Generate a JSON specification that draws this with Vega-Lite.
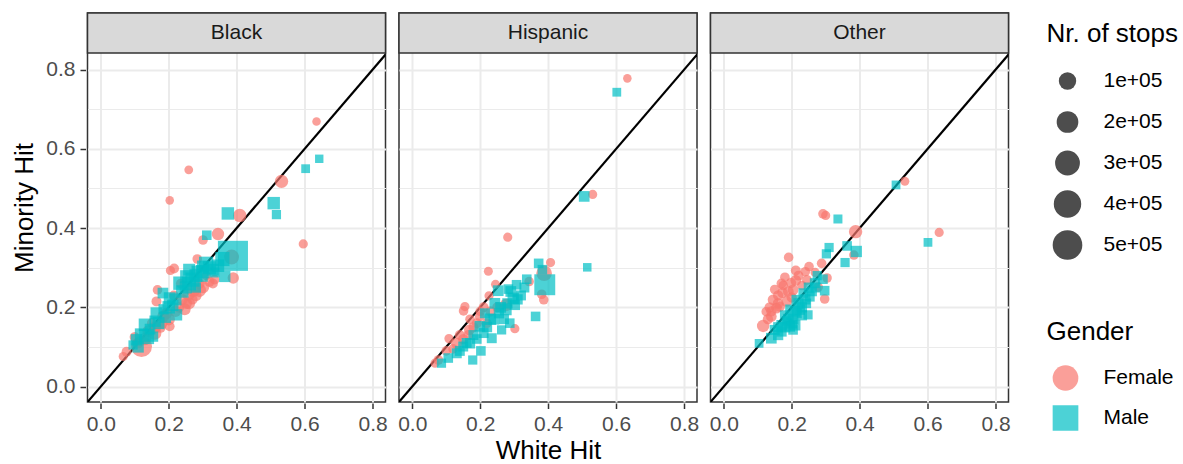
{
  "$schema": "https://vega.github.io/schema/vega-lite/v6.json",
  "padding": {"left": 11.5, "top": 11, "right": 5, "bottom": 5},
  "background": "white",
  "data": {"values": [
    {"race":"Black","gender":"Female","white":0.635,"minority":0.669,"stops":3000},
    {"race":"Black","gender":"Female","white":0.259,"minority":0.547,"stops":4000},
    {"race":"Black","gender":"Female","white":0.203,"minority":0.470,"stops":3000},
    {"race":"Black","gender":"Female","white":0.532,"minority":0.518,"stops":40000},
    {"race":"Black","gender":"Female","white":0.409,"minority":0.432,"stops":40000},
    {"race":"Black","gender":"Female","white":0.345,"minority":0.385,"stops":30000},
    {"race":"Black","gender":"Female","white":0.301,"minority":0.370,"stops":8000},
    {"race":"Black","gender":"Female","white":0.596,"minority":0.360,"stops":6000},
    {"race":"Black","gender":"Female","white":0.284,"minority":0.322,"stops":8000},
    {"race":"Black","gender":"Female","white":0.385,"minority":0.327,"stops":60000},
    {"race":"Black","gender":"Female","white":0.216,"minority":0.298,"stops":9000},
    {"race":"Black","gender":"Female","white":0.205,"minority":0.293,"stops":6000},
    {"race":"Black","gender":"Female","white":0.390,"minority":0.274,"stops":20000},
    {"race":"Black","gender":"Female","white":0.301,"minority":0.251,"stops":30000},
    {"race":"Black","gender":"Female","white":0.290,"minority":0.243,"stops":40000},
    {"race":"Black","gender":"Female","white":0.272,"minority":0.244,"stops":50000},
    {"race":"Black","gender":"Female","white":0.167,"minority":0.244,"stops":8000},
    {"race":"Black","gender":"Female","white":0.252,"minority":0.210,"stops":20000},
    {"race":"Black","gender":"Female","white":0.247,"minority":0.195,"stops":25000},
    {"race":"Black","gender":"Female","white":0.164,"minority":0.215,"stops":10000},
    {"race":"Black","gender":"Female","white":0.194,"minority":0.185,"stops":20000},
    {"race":"Black","gender":"Female","white":0.203,"minority":0.152,"stops":9000},
    {"race":"Black","gender":"Female","white":0.100,"minority":0.125,"stops":12000},
    {"race":"Black","gender":"Female","white":0.120,"minority":0.101,"stops":180000},
    {"race":"Black","gender":"Female","white":0.076,"minority":0.088,"stops":10000},
    {"race":"Black","gender":"Female","white":0.066,"minority":0.076,"stops":5000},
    {"race":"Black","gender":"Female","white":0.159,"minority":0.135,"stops":40000},
    {"race":"Black","gender":"Female","white":0.184,"minority":0.177,"stops":25000},
    {"race":"Black","gender":"Female","white":0.230,"minority":0.200,"stops":15000},
    {"race":"Black","gender":"Female","white":0.270,"minority":0.220,"stops":12000},
    {"race":"Black","gender":"Female","white":0.310,"minority":0.280,"stops":6000},
    {"race":"Black","gender":"Female","white":0.150,"minority":0.160,"stops":8000},
    {"race":"Black","gender":"Female","white":0.175,"minority":0.150,"stops":20000},
    {"race":"Black","gender":"Female","white":0.215,"minority":0.230,"stops":10000},
    {"race":"Black","gender":"Female","white":0.235,"minority":0.260,"stops":7000},
    {"race":"Black","gender":"Female","white":0.140,"minority":0.140,"stops":25000},
    {"race":"Black","gender":"Female","white":0.258,"minority":0.232,"stops":30000},
    {"race":"Black","gender":"Female","white":0.330,"minority":0.260,"stops":10000},
    {"race":"Black","gender":"Female","white":0.280,"minority":0.230,"stops":20000},
    {"race":"Black","gender":"Female","white":0.260,"minority":0.210,"stops":25000},
    {"race":"Black","gender":"Female","white":0.240,"minority":0.220,"stops":15000},
    {"race":"Black","gender":"Female","white":0.220,"minority":0.190,"stops":20000},
    {"race":"Black","gender":"Female","white":0.200,"minority":0.170,"stops":30000},
    {"race":"Black","gender":"Female","white":0.180,"minority":0.160,"stops":20000},
    {"race":"Black","gender":"Female","white":0.160,"minority":0.150,"stops":25000},
    {"race":"Black","gender":"Female","white":0.130,"minority":0.120,"stops":30000},
    {"race":"Black","gender":"Female","white":0.110,"minority":0.110,"stops":15000},
    {"race":"Black","gender":"Female","white":0.320,"minority":0.265,"stops":12000},
    {"race":"Black","gender":"Female","white":0.290,"minority":0.260,"stops":15000},
    {"race":"Black","gender":"Female","white":0.335,"minority":0.270,"stops":9000},
    {"race":"Black","gender":"Male","white":0.643,"minority":0.575,"stops":2500},
    {"race":"Black","gender":"Male","white":0.603,"minority":0.550,"stops":4000},
    {"race":"Black","gender":"Male","white":0.509,"minority":0.463,"stops":30000},
    {"race":"Black","gender":"Male","white":0.517,"minority":0.434,"stops":6000},
    {"race":"Black","gender":"Male","white":0.374,"minority":0.437,"stops":30000},
    {"race":"Black","gender":"Male","white":0.312,"minority":0.382,"stops":8000},
    {"race":"Black","gender":"Male","white":0.389,"minority":0.330,"stops":520000},
    {"race":"Black","gender":"Male","white":0.358,"minority":0.322,"stops":50000},
    {"race":"Black","gender":"Male","white":0.335,"minority":0.288,"stops":10000},
    {"race":"Black","gender":"Male","white":0.365,"minority":0.278,"stops":20000},
    {"race":"Black","gender":"Male","white":0.291,"minority":0.285,"stops":80000},
    {"race":"Black","gender":"Male","white":0.301,"minority":0.303,"stops":25000},
    {"race":"Black","gender":"Male","white":0.252,"minority":0.278,"stops":30000},
    {"race":"Black","gender":"Male","white":0.233,"minority":0.261,"stops":40000},
    {"race":"Black","gender":"Male","white":0.183,"minority":0.236,"stops":15000},
    {"race":"Black","gender":"Male","white":0.203,"minority":0.223,"stops":25000},
    {"race":"Black","gender":"Male","white":0.223,"minority":0.181,"stops":20000},
    {"race":"Black","gender":"Male","white":0.164,"minority":0.185,"stops":25000},
    {"race":"Black","gender":"Male","white":0.130,"minority":0.156,"stops":30000},
    {"race":"Black","gender":"Male","white":0.135,"minority":0.126,"stops":60000},
    {"race":"Black","gender":"Male","white":0.105,"minority":0.118,"stops":20000},
    {"race":"Black","gender":"Male","white":0.154,"minority":0.126,"stops":12000},
    {"race":"Black","gender":"Male","white":0.095,"minority":0.105,"stops":6000},
    {"race":"Black","gender":"Male","white":0.270,"minority":0.270,"stops":50000},
    {"race":"Black","gender":"Male","white":0.240,"minority":0.240,"stops":30000},
    {"race":"Black","gender":"Male","white":0.212,"minority":0.205,"stops":20000},
    {"race":"Black","gender":"Male","white":0.185,"minority":0.195,"stops":12000},
    {"race":"Black","gender":"Male","white":0.280,"minority":0.250,"stops":12000},
    {"race":"Black","gender":"Male","white":0.320,"minority":0.300,"stops":35000},
    {"race":"Black","gender":"Male","white":0.160,"minority":0.165,"stops":20000},
    {"race":"Black","gender":"Male","white":0.145,"minority":0.145,"stops":15000},
    {"race":"Black","gender":"Male","white":0.260,"minority":0.295,"stops":25000},
    {"race":"Black","gender":"Male","white":0.300,"minority":0.290,"stops":40000},
    {"race":"Black","gender":"Male","white":0.280,"minority":0.280,"stops":35000},
    {"race":"Black","gender":"Male","white":0.260,"minority":0.260,"stops":45000},
    {"race":"Black","gender":"Male","white":0.250,"minority":0.250,"stops":25000},
    {"race":"Black","gender":"Male","white":0.220,"minority":0.220,"stops":25000},
    {"race":"Black","gender":"Male","white":0.200,"minority":0.200,"stops":30000},
    {"race":"Black","gender":"Male","white":0.190,"minority":0.175,"stops":20000},
    {"race":"Black","gender":"Male","white":0.170,"minority":0.160,"stops":25000},
    {"race":"Black","gender":"Male","white":0.120,"minority":0.130,"stops":40000},
    {"race":"Black","gender":"Male","white":0.110,"minority":0.100,"stops":20000},
    {"race":"Black","gender":"Male","white":0.310,"minority":0.310,"stops":50000},
    {"race":"Black","gender":"Male","white":0.330,"minority":0.295,"stops":25000},
    {"race":"Black","gender":"Male","white":0.345,"minority":0.305,"stops":30000},
    {"race":"Hispanic","gender":"Female","white":0.633,"minority":0.778,"stops":3000},
    {"race":"Hispanic","gender":"Female","white":0.531,"minority":0.485,"stops":6000},
    {"race":"Hispanic","gender":"Female","white":0.281,"minority":0.377,"stops":6000},
    {"race":"Hispanic","gender":"Female","white":0.407,"minority":0.313,"stops":6000},
    {"race":"Hispanic","gender":"Female","white":0.224,"minority":0.291,"stops":5000},
    {"race":"Hispanic","gender":"Female","white":0.388,"minority":0.286,"stops":70000},
    {"race":"Hispanic","gender":"Female","white":0.344,"minority":0.265,"stops":8000},
    {"race":"Hispanic","gender":"Female","white":0.245,"minority":0.258,"stops":5000},
    {"race":"Hispanic","gender":"Female","white":0.226,"minority":0.229,"stops":6000},
    {"race":"Hispanic","gender":"Female","white":0.381,"minority":0.233,"stops":8000},
    {"race":"Hispanic","gender":"Female","white":0.387,"minority":0.219,"stops":8000},
    {"race":"Hispanic","gender":"Female","white":0.155,"minority":0.202,"stops":6000},
    {"race":"Hispanic","gender":"Female","white":0.151,"minority":0.191,"stops":8000},
    {"race":"Hispanic","gender":"Female","white":0.276,"minority":0.206,"stops":30000},
    {"race":"Hispanic","gender":"Female","white":0.302,"minority":0.146,"stops":6000},
    {"race":"Hispanic","gender":"Female","white":0.108,"minority":0.121,"stops":6000},
    {"race":"Hispanic","gender":"Female","white":0.199,"minority":0.177,"stops":10000},
    {"race":"Hispanic","gender":"Female","white":0.168,"minority":0.143,"stops":15000},
    {"race":"Hispanic","gender":"Female","white":0.131,"minority":0.109,"stops":20000},
    {"race":"Hispanic","gender":"Female","white":0.067,"minority":0.059,"stops":6000},
    {"race":"Hispanic","gender":"Female","white":0.077,"minority":0.067,"stops":8000},
    {"race":"Hispanic","gender":"Female","white":0.219,"minority":0.160,"stops":10000},
    {"race":"Hispanic","gender":"Female","white":0.180,"minority":0.150,"stops":10000},
    {"race":"Hispanic","gender":"Female","white":0.150,"minority":0.120,"stops":12000},
    {"race":"Hispanic","gender":"Female","white":0.200,"minority":0.190,"stops":8000},
    {"race":"Hispanic","gender":"Female","white":0.250,"minority":0.200,"stops":10000},
    {"race":"Hispanic","gender":"Female","white":0.120,"minority":0.095,"stops":8000},
    {"race":"Hispanic","gender":"Female","white":0.165,"minority":0.130,"stops":10000},
    {"race":"Hispanic","gender":"Female","white":0.190,"minority":0.160,"stops":10000},
    {"race":"Hispanic","gender":"Female","white":0.140,"minority":0.130,"stops":10000},
    {"race":"Hispanic","gender":"Female","white":0.170,"minority":0.170,"stops":8000},
    {"race":"Hispanic","gender":"Female","white":0.210,"minority":0.200,"stops":10000},
    {"race":"Hispanic","gender":"Female","white":0.230,"minority":0.190,"stops":12000},
    {"race":"Hispanic","gender":"Female","white":0.100,"minority":0.090,"stops":8000},
    {"race":"Hispanic","gender":"Male","white":0.602,"minority":0.743,"stops":4000},
    {"race":"Hispanic","gender":"Male","white":0.506,"minority":0.480,"stops":15000},
    {"race":"Hispanic","gender":"Male","white":0.515,"minority":0.301,"stops":3000},
    {"race":"Hispanic","gender":"Male","white":0.372,"minority":0.311,"stops":8000},
    {"race":"Hispanic","gender":"Male","white":0.383,"minority":0.295,"stops":8000},
    {"race":"Hispanic","gender":"Male","white":0.390,"minority":0.257,"stops":180000},
    {"race":"Hispanic","gender":"Male","white":0.337,"minority":0.271,"stops":8000},
    {"race":"Hispanic","gender":"Male","white":0.307,"minority":0.257,"stops":8000},
    {"race":"Hispanic","gender":"Male","white":0.283,"minority":0.246,"stops":8000},
    {"race":"Hispanic","gender":"Male","white":0.253,"minority":0.242,"stops":15000},
    {"race":"Hispanic","gender":"Male","white":0.363,"minority":0.177,"stops":8000},
    {"race":"Hispanic","gender":"Male","white":0.297,"minority":0.223,"stops":20000},
    {"race":"Hispanic","gender":"Male","white":0.302,"minority":0.206,"stops":12000},
    {"race":"Hispanic","gender":"Male","white":0.243,"minority":0.210,"stops":15000},
    {"race":"Hispanic","gender":"Male","white":0.214,"minority":0.185,"stops":10000},
    {"race":"Hispanic","gender":"Male","white":0.287,"minority":0.160,"stops":8000},
    {"race":"Hispanic","gender":"Male","white":0.263,"minority":0.143,"stops":6000},
    {"race":"Hispanic","gender":"Male","white":0.199,"minority":0.152,"stops":15000},
    {"race":"Hispanic","gender":"Male","white":0.234,"minority":0.122,"stops":10000},
    {"race":"Hispanic","gender":"Male","white":0.202,"minority":0.090,"stops":8000},
    {"race":"Hispanic","gender":"Male","white":0.178,"minority":0.067,"stops":6000},
    {"race":"Hispanic","gender":"Male","white":0.150,"minority":0.101,"stops":10000},
    {"race":"Hispanic","gender":"Male","white":0.106,"minority":0.072,"stops":8000},
    {"race":"Hispanic","gender":"Male","white":0.086,"minority":0.059,"stops":6000},
    {"race":"Hispanic","gender":"Male","white":0.131,"minority":0.084,"stops":10000},
    {"race":"Hispanic","gender":"Male","white":0.170,"minority":0.109,"stops":12000},
    {"race":"Hispanic","gender":"Male","white":0.255,"minority":0.185,"stops":12000},
    {"race":"Hispanic","gender":"Male","white":0.230,"minority":0.170,"stops":20000},
    {"race":"Hispanic","gender":"Male","white":0.275,"minority":0.195,"stops":25000},
    {"race":"Hispanic","gender":"Male","white":0.320,"minority":0.230,"stops":10000},
    {"race":"Hispanic","gender":"Male","white":0.210,"minority":0.135,"stops":10000},
    {"race":"Hispanic","gender":"Male","white":0.190,"minority":0.120,"stops":8000},
    {"race":"Hispanic","gender":"Male","white":0.260,"minority":0.200,"stops":15000},
    {"race":"Hispanic","gender":"Male","white":0.240,"minority":0.170,"stops":15000},
    {"race":"Hispanic","gender":"Male","white":0.220,"minority":0.150,"stops":12000},
    {"race":"Hispanic","gender":"Male","white":0.280,"minority":0.210,"stops":12000},
    {"race":"Hispanic","gender":"Male","white":0.290,"minority":0.240,"stops":15000},
    {"race":"Hispanic","gender":"Male","white":0.180,"minority":0.130,"stops":10000},
    {"race":"Hispanic","gender":"Male","white":0.160,"minority":0.110,"stops":10000},
    {"race":"Hispanic","gender":"Male","white":0.140,"minority":0.090,"stops":10000},
    {"race":"Hispanic","gender":"Male","white":0.310,"minority":0.220,"stops":12000},
    {"race":"Hispanic","gender":"Male","white":0.330,"minority":0.250,"stops":10000},
    {"race":"Hispanic","gender":"Male","white":0.270,"minority":0.170,"stops":10000},
    {"race":"Other","gender":"Female","white":0.533,"minority":0.518,"stops":5000},
    {"race":"Other","gender":"Female","white":0.292,"minority":0.436,"stops":8000},
    {"race":"Other","gender":"Female","white":0.300,"minority":0.432,"stops":6000},
    {"race":"Other","gender":"Female","white":0.388,"minority":0.391,"stops":40000},
    {"race":"Other","gender":"Female","white":0.634,"minority":0.389,"stops":6000},
    {"race":"Other","gender":"Female","white":0.383,"minority":0.332,"stops":8000},
    {"race":"Other","gender":"Female","white":0.191,"minority":0.326,"stops":8000},
    {"race":"Other","gender":"Female","white":0.288,"minority":0.311,"stops":8000},
    {"race":"Other","gender":"Female","white":0.251,"minority":0.303,"stops":8000},
    {"race":"Other","gender":"Female","white":0.212,"minority":0.293,"stops":10000},
    {"race":"Other","gender":"Female","white":0.269,"minority":0.288,"stops":6000},
    {"race":"Other","gender":"Female","white":0.180,"minority":0.276,"stops":8000},
    {"race":"Other","gender":"Female","white":0.212,"minority":0.268,"stops":15000},
    {"race":"Other","gender":"Female","white":0.198,"minority":0.262,"stops":12000},
    {"race":"Other","gender":"Female","white":0.245,"minority":0.269,"stops":10000},
    {"race":"Other","gender":"Female","white":0.304,"minority":0.274,"stops":8000},
    {"race":"Other","gender":"Female","white":0.173,"minority":0.237,"stops":15000},
    {"race":"Other","gender":"Female","white":0.204,"minority":0.244,"stops":15000},
    {"race":"Other","gender":"Female","white":0.278,"minority":0.251,"stops":8000},
    {"race":"Other","gender":"Female","white":0.297,"minority":0.221,"stops":8000},
    {"race":"Other","gender":"Female","white":0.145,"minority":0.219,"stops":15000},
    {"race":"Other","gender":"Female","white":0.155,"minority":0.198,"stops":15000},
    {"race":"Other","gender":"Female","white":0.125,"minority":0.189,"stops":8000},
    {"race":"Other","gender":"Female","white":0.140,"minority":0.177,"stops":15000},
    {"race":"Other","gender":"Female","white":0.116,"minority":0.153,"stops":30000},
    {"race":"Other","gender":"Female","white":0.165,"minority":0.202,"stops":12000},
    {"race":"Other","gender":"Female","white":0.160,"minority":0.230,"stops":12000},
    {"race":"Other","gender":"Female","white":0.185,"minority":0.215,"stops":15000},
    {"race":"Other","gender":"Female","white":0.230,"minority":0.255,"stops":8000},
    {"race":"Other","gender":"Female","white":0.175,"minority":0.255,"stops":8000},
    {"race":"Other","gender":"Female","white":0.150,"minority":0.245,"stops":8000},
    {"race":"Other","gender":"Female","white":0.135,"minority":0.200,"stops":12000},
    {"race":"Other","gender":"Female","white":0.170,"minority":0.260,"stops":10000},
    {"race":"Other","gender":"Female","white":0.190,"minority":0.240,"stops":15000},
    {"race":"Other","gender":"Female","white":0.220,"minority":0.280,"stops":10000},
    {"race":"Other","gender":"Female","white":0.160,"minority":0.210,"stops":15000},
    {"race":"Other","gender":"Female","white":0.140,"minority":0.190,"stops":12000},
    {"race":"Other","gender":"Female","white":0.240,"minority":0.290,"stops":8000},
    {"race":"Other","gender":"Female","white":0.130,"minority":0.170,"stops":12000},
    {"race":"Other","gender":"Female","white":0.200,"minority":0.225,"stops":12000},
    {"race":"Other","gender":"Male","white":0.507,"minority":0.509,"stops":4000},
    {"race":"Other","gender":"Male","white":0.601,"minority":0.364,"stops":4000},
    {"race":"Other","gender":"Male","white":0.336,"minority":0.423,"stops":5000},
    {"race":"Other","gender":"Male","white":0.310,"minority":0.351,"stops":6000},
    {"race":"Other","gender":"Male","white":0.302,"minority":0.335,"stops":6000},
    {"race":"Other","gender":"Male","white":0.363,"minority":0.355,"stops":8000},
    {"race":"Other","gender":"Male","white":0.390,"minority":0.341,"stops":20000},
    {"race":"Other","gender":"Male","white":0.357,"minority":0.313,"stops":6000},
    {"race":"Other","gender":"Male","white":0.292,"minority":0.271,"stops":8000},
    {"race":"Other","gender":"Male","white":0.297,"minority":0.242,"stops":8000},
    {"race":"Other","gender":"Male","white":0.268,"minority":0.261,"stops":10000},
    {"race":"Other","gender":"Male","white":0.253,"minority":0.227,"stops":10000},
    {"race":"Other","gender":"Male","white":0.243,"minority":0.210,"stops":8000},
    {"race":"Other","gender":"Male","white":0.248,"minority":0.181,"stops":6000},
    {"race":"Other","gender":"Male","white":0.224,"minority":0.194,"stops":12000},
    {"race":"Other","gender":"Male","white":0.204,"minority":0.170,"stops":15000},
    {"race":"Other","gender":"Male","white":0.194,"minority":0.152,"stops":15000},
    {"race":"Other","gender":"Male","white":0.170,"minority":0.139,"stops":12000},
    {"race":"Other","gender":"Male","white":0.150,"minority":0.143,"stops":10000},
    {"race":"Other","gender":"Male","white":0.140,"minority":0.122,"stops":15000},
    {"race":"Other","gender":"Male","white":0.104,"minority":0.109,"stops":4000},
    {"race":"Other","gender":"Male","white":0.204,"minority":0.143,"stops":8000},
    {"race":"Other","gender":"Male","white":0.185,"minority":0.165,"stops":10000},
    {"race":"Other","gender":"Male","white":0.214,"minority":0.219,"stops":10000},
    {"race":"Other","gender":"Male","white":0.234,"minority":0.236,"stops":8000},
    {"race":"Other","gender":"Male","white":0.215,"minority":0.185,"stops":10000},
    {"race":"Other","gender":"Male","white":0.180,"minority":0.180,"stops":10000},
    {"race":"Other","gender":"Male","white":0.230,"minority":0.200,"stops":12000},
    {"race":"Other","gender":"Male","white":0.260,"minority":0.240,"stops":8000},
    {"race":"Other","gender":"Male","white":0.275,"minority":0.280,"stops":6000},
    {"race":"Other","gender":"Male","white":0.160,"minority":0.150,"stops":10000},
    {"race":"Other","gender":"Male","white":0.195,"minority":0.195,"stops":8000},
    {"race":"Other","gender":"Male","white":0.190,"minority":0.170,"stops":15000},
    {"race":"Other","gender":"Male","white":0.210,"minority":0.190,"stops":15000},
    {"race":"Other","gender":"Male","white":0.220,"minority":0.210,"stops":12000},
    {"race":"Other","gender":"Male","white":0.200,"minority":0.160,"stops":15000},
    {"race":"Other","gender":"Male","white":0.180,"minority":0.150,"stops":15000},
    {"race":"Other","gender":"Male","white":0.170,"minority":0.155,"stops":12000},
    {"race":"Other","gender":"Male","white":0.240,"minority":0.220,"stops":12000},
    {"race":"Other","gender":"Male","white":0.250,"minority":0.250,"stops":10000},
    {"race":"Other","gender":"Male","white":0.270,"minority":0.250,"stops":10000},
    {"race":"Other","gender":"Male","white":0.230,"minority":0.180,"stops":12000},
    {"race":"Other","gender":"Male","white":0.160,"minority":0.130,"stops":12000},
    {"race":"Other","gender":"Male","white":0.210,"minority":0.155,"stops":15000}
  ]},
  "facet": {"column": {"field": "race", "type": "nominal", "title": "White Hit",
    "header": {"labels": false, "titleOrient": "bottom", "titleFontSize": 26, "titleColor": "black", "titleFontWeight": "normal", "titlePadding": -7, "titleFont": "Liberation Sans"}}},
  "spacing": 9.5,
  "spec": {
    "width": 298,
    "height": 389,
    "layer": [
      {
        "transform": [{"aggregate": [{"op": "count", "as": "n"}], "groupby": ["race"]}],
        "mark": {"type": "rule", "color": "black", "strokeWidth": 2.2, "clip": true},
        "encoding": {
          "x": {"datum": -0.2, "type": "quantitative", "title": null, "scale": {"domain": [-0.039, 0.838], "nice": false, "zero": false}},
          "y": {"datum": -0.2, "type": "quantitative", "title": "Minority Hit", "scale": {"domain": [-0.039, 0.943], "nice": false, "zero": false}},
          "x2": {"datum": 1.2},
          "y2": {"datum": 1.2}
        }
      },
      {
        "mark": {"type": "point", "filled": true, "opacity": 0.7, "strokeWidth": 0},
        "encoding": {
          "x": {"field": "white", "type": "quantitative", "title": null,
            "axis": {
              "grid": true,
              "values": [0, 0.1, 0.2, 0.3, 0.4, 0.5, 0.6, 0.7, 0.8],
              "labelExpr": "round(datum.value*10)%2==0 ? format(datum.value, '.1f') : ''",
              "gridWidth": {"condition": {"test": "round(datum.value*10)%2==0", "value": 2}, "value": 1},
              "tickOpacity": {"condition": {"test": "round(datum.value*10)%2==0", "value": 1}, "value": 0}
            }},
          "y": {"field": "minority", "type": "quantitative", "title": "Minority Hit",
            "axis": {
              "grid": true,
              "values": [0, 0.1, 0.2, 0.3, 0.4, 0.5, 0.6, 0.7, 0.8],
              "labelExpr": "round(datum.value*10)%2==0 ? format(datum.value, '.1f') : ''",
              "gridWidth": {"condition": {"test": "round(datum.value*10)%2==0", "value": 2}, "value": 1},
              "tickOpacity": {"condition": {"test": "round(datum.value*10)%2==0", "value": 1}, "value": 0}
            }},
          "size": {"field": "stops", "type": "quantitative", "title": "Nr. of stops",
            "scale": {"type": "pow", "exponent": 0.75, "domain": [0, 550000], "range": [55, 940]},
            "legend": {
              "values": [100000, 200000, 300000, 400000, 500000],
              "labelExpr": "replace(format(datum.value, '.0e'), '+', '+0')",
              "symbolFillColor": "#4D4D4D", "symbolStrokeWidth": 0, "symbolOpacity": 1, "symbolType": "circle",
              "clipHeight": 34, "rowPadding": 7, "titlePadding": 17, "labelOffset": 21, "symbolOffset": 6,
              "orient": "none", "legendX": 959, "legendY": 8
            }},
          "color": {"field": "gender", "type": "nominal", "title": "Gender",
            "scale": {"range": ["#F8766D", "#00BFC4"]},
            "legend": {"symbolSize": 660, "symbolOpacity": 0.7, "symbolStrokeWidth": 0, "clipHeight": 30, "rowPadding": 10, "titlePadding": 18, "labelOffset": 25, "symbolOffset": 6,
              "orient": "none", "legendX": 959, "legendY": 306}},
          "shape": {"field": "gender", "type": "nominal", "title": "Gender",
            "scale": {"range": ["circle", "square"]},
            "legend": {"symbolSize": 660, "symbolOpacity": 0.7, "symbolStrokeWidth": 0, "clipHeight": 30, "rowPadding": 10, "titlePadding": 18, "labelOffset": 25, "symbolOffset": 6,
              "orient": "none", "legendX": 959, "legendY": 306}}
        }
      },
      {
        "transform": [{"aggregate": [{"op": "count", "as": "n"}], "groupby": ["race"]}],
        "mark": {"type": "rect", "fill": "#D9D9D9", "stroke": "#333333", "strokeWidth": 1.5},
        "encoding": {
          "x": {"datum": -0.039, "type": "quantitative", "title": null},
          "x2": {"datum": 0.838},
          "y": {"datum": 0.842, "type": "quantitative", "title": "Minority Hit"},
          "y2": {"datum": 0.943}
        }
      },
      {
        "transform": [{"aggregate": [{"op": "count", "as": "n"}], "groupby": ["race"]}],
        "mark": {"type": "text", "fontSize": 21, "color": "#1A1A1A", "baseline": "middle", "align": "center"},
        "encoding": {
          "x": {"datum": 0.3995, "type": "quantitative", "title": null},
          "y": {"datum": 0.8925, "type": "quantitative", "title": "Minority Hit"},
          "text": {"field": "race", "type": "nominal"}
        }
      }
    ]
  },
  "config": {
    "font": "Liberation Sans",
    "view": {"stroke": "#333333", "strokeWidth": 1.5},
    "axis": {
      "grid": true,
      "gridColor": "#EBEBEB",
      "domain": false,
      "tickColor": "#333333",
      "tickWidth": 1.5,
      "tickSize": 5.5,
      "labelFontSize": 21,
      "labelColor": "#4D4D4D",
      "labelPadding": 5,
      "titleFontSize": 26,
      "titleFontWeight": "normal",
      "titleColor": "black",
      "titlePadding": 8
    },
    "legend": {
      "titleFontSize": 26,
      "titleFontWeight": "normal",
      "titleColor": "black",
      "labelFontSize": 21,
      "labelColor": "black",
      "padding": 0
    }
  }
}
